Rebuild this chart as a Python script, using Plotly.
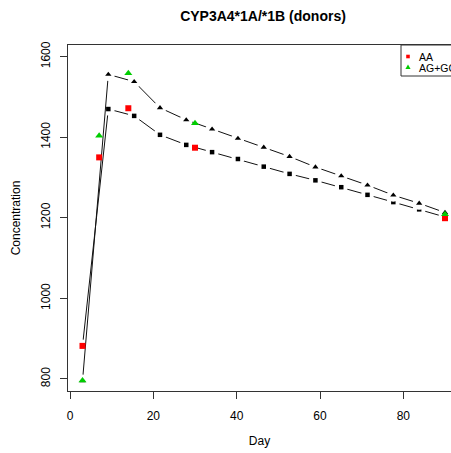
import plotly.graph_objects as go

# ---- data ----
model_days = [3, 9.2, 15.4, 21.6, 27.9, 34.1, 40.3, 46.5, 52.7, 58.9, 65.1, 71.4, 77.6, 83.8, 90]
model_aa = [882, 1470, 1453, 1406, 1381, 1363, 1346, 1327, 1309, 1293, 1276, 1257, 1239, 1221, 1202]
model_ag = [795, 1556, 1538, 1473, 1443, 1420, 1397, 1375, 1352, 1326, 1304, 1281, 1256, 1236, 1213]

obs_days = [3, 7, 14, 30, 90]
obs_aa = [882, 1350, 1472, 1374, 1199]
obs_ag = [796, 1404, 1559, 1435, 1209]

x_ticks = [0, 20, 40, 60, 80]
y_ticks = [800, 1000, 1200, 1400, 1600]

title_text = "CYP3A4*1A/*1B (donors)"
legend_labels = ["AA", "AG+GG"]
RED = "#FF0000"
GREEN = "#00CD00"

W, H = 451, 453
L, R, T, B = 68, 0, 45, 62
FONT = "Liberation Sans, Arial, sans-serif"

fig = go.Figure()

def add_model(days, vals, symbol, size):
    fig.add_trace(go.Scatter(x=days, y=vals, mode="lines",
                             line=dict(color="#111111", width=1),
                             showlegend=False, hoverinfo="skip"))
    fig.add_trace(go.Scatter(x=days, y=vals, mode="markers",
                             marker=dict(symbol="circle", size=13, color="white",
                                         line=dict(width=0)),
                             showlegend=False, hoverinfo="skip"))
    fig.add_trace(go.Scatter(x=days, y=vals, mode="markers",
                             marker=dict(symbol=symbol, size=size, color="black",
                                         line=dict(width=0)),
                             showlegend=False))

add_model(model_days, model_aa, "square", 4.5)
add_model(model_days, model_ag, "triangle-up", 5.5)

fig.add_trace(go.Scatter(x=obs_days, y=obs_aa, mode="markers", name=legend_labels[0],
                         marker=dict(symbol="square", size=6, color=RED, line=dict(width=0)),
                         showlegend=False))
fig.add_trace(go.Scatter(x=obs_days, y=obs_ag, mode="markers", name=legend_labels[1],
                         marker=dict(symbol="triangle-up", size=7, color=GREEN, line=dict(width=0)),
                         showlegend=False))

pw = W - L - R
ph = H - T - B
def px_x(p):
    return (p - L) / pw
def px_y(p):
    return (H - B - p) / ph

# legend box (drawn manually, partly cut by the window edge like the reference)
shapes = [
    dict(type="rect", xref="paper", yref="paper", x0=px_x(401), x1=1.2,
         y0=px_y(76), y1=px_y(45), line=dict(color="#333333", width=1),
         fillcolor="white", layer="above"),
    dict(type="rect", xref="paper", yref="paper", xsizemode="pixel", ysizemode="pixel",
         xanchor=px_x(408), yanchor=px_y(56.5), x0=-1.8, x1=1.8, y0=-1.8, y1=1.8,
         fillcolor=RED, line=dict(width=0), layer="above"),
    dict(type="path", xref="paper", yref="paper", xsizemode="pixel", ysizemode="pixel",
         xanchor=px_x(408), yanchor=px_y(67), path="M -2.6 -1.9 L 2.6 -1.9 L 0 2.6 Z",
         fillcolor=GREEN, line=dict(width=0), layer="above"),
]
annotations = [
    dict(xref="paper", yref="paper", x=px_x(416.5), y=px_y(56.5), xanchor="left",
         yanchor="middle", text=legend_labels[0], showarrow=False,
         font=dict(family=FONT, size=10.5, color="black")),
    dict(xref="paper", yref="paper", x=px_x(416.5), y=px_y(67.5), xanchor="left",
         yanchor="middle", text=legend_labels[1], showarrow=False,
         font=dict(family=FONT, size=10.5, color="black")),
]

fig.update_layout(
    width=W, height=H,
    margin=dict(l=L, r=R, t=T, b=B, autoexpand=False),
    paper_bgcolor="white", plot_bgcolor="white",
    font=dict(family=FONT, size=12, color="black"),
    title=dict(text="<b>" + title_text + "</b>", x=263 / W, xref="container",
               xanchor="center", y=1 - 16 / H, yref="container", yanchor="middle",
               font=dict(family=FONT, size=14, color="black")),
    shapes=shapes, annotations=annotations,
    showlegend=False,
)
fig.update_xaxes(range=[-0.48, 91.44], tickvals=x_ticks, ticktext=[str(v) for v in x_ticks],
                 showgrid=False, zeroline=False, showline=True, mirror=True,
                 linecolor="#333333", linewidth=1, ticks="outside", ticklen=7,
                 tickcolor="#333333", ticklabelstandoff=7,
                 title=dict(text="Day", standoff=14, font=dict(size=12)))
fig.update_yaxes(range=[770, 1629], tickvals=y_ticks, ticktext=[str(v) for v in y_ticks],
                 showgrid=False, zeroline=False, showline=True, mirror=False,
                 linecolor="#333333", linewidth=1, ticks="outside", ticklen=7,
                 tickcolor="#333333", tickangle=-90, ticklabelstandoff=5,
                 title=dict(text="Concentration", standoff=16, font=dict(size=12)))

fig.write_html("out.html")
